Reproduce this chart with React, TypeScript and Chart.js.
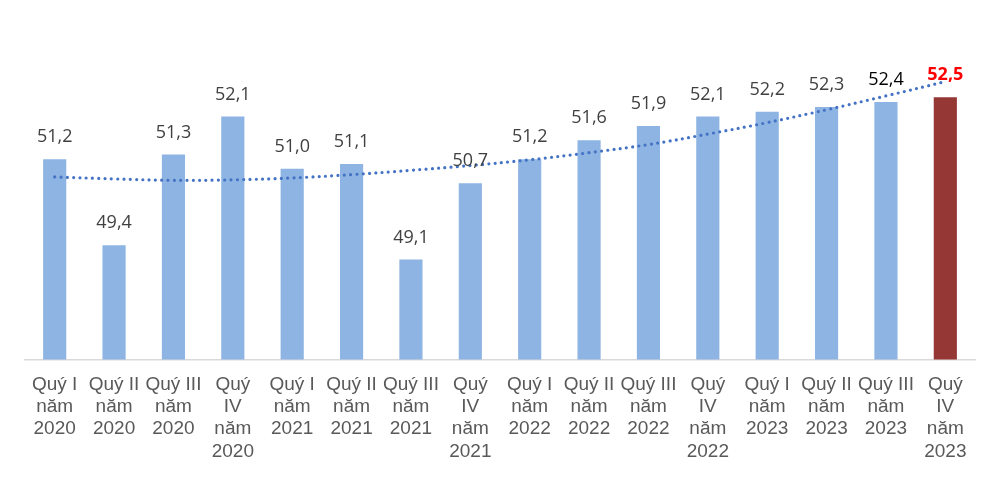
import { useEffect, useRef } from "react";
import { Chart, registerables } from "chart.js";

Chart.register(...registerables);

// quarters, wrapped the way the original labels wrap
const quarterLabels = [
  ["Quý I", "năm", "2020"],
  ["Quý II", "năm", "2020"],
  ["Quý III", "năm", "2020"],
  ["Quý", "IV", "năm", "2020"],
  ["Quý I", "năm", "2021"],
  ["Quý II", "năm", "2021"],
  ["Quý III", "năm", "2021"],
  ["Quý", "IV", "năm", "2021"],
  ["Quý I", "năm", "2022"],
  ["Quý II", "năm", "2022"],
  ["Quý III", "năm", "2022"],
  ["Quý", "IV", "năm", "2022"],
  ["Quý I", "năm", "2023"],
  ["Quý II", "năm", "2023"],
  ["Quý III", "năm", "2023"],
  ["Quý", "IV", "năm", "2023"],
];

const values = [
  51.2, 49.4, 51.3, 52.1, 51.0, 51.1, 49.1, 50.7, 51.2, 51.6, 51.9, 52.1, 52.2,
  52.3, 52.4, 52.5,
];

// polynomial trend line
const trendValues = [
  50.83, 50.79, 50.76, 50.77, 50.81, 50.88, 50.97, 51.07, 51.19, 51.34, 51.51,
  51.73, 51.97, 52.24, 52.53, 52.83,
];

const BLUE = "#8DB4E2";
const DARK_RED = "#953735";

const valueLabels = {
  id: "valueLabels",
  afterDatasetsDraw(chart: Chart) {
    const ctx = chart.ctx;
    const meta = chart.getDatasetMeta(1);
    const last = meta.data.length - 1;
    ctx.save();
    ctx.textAlign = "center";
    ctx.textBaseline = "middle";
    meta.data.forEach((bar: any, i: number) => {
      const text = values[i].toFixed(1).replace(".", ",");
      if (i === last) {
        ctx.fillStyle = "#FF0000";
        ctx.font = "bold 18px 'Open Sans'";
      } else {
        ctx.fillStyle = i === last - 1 ? "#000000" : "#404040";
        ctx.font = "18px 'Open Sans'";
      }
      ctx.fillText(text, bar.x, bar.y - 22);
    });
    ctx.restore();
  },
};

export default function App() {
  const canvasRef = useRef<HTMLCanvasElement>(null);

  useEffect(() => {
    document.body.style.margin = "0";
    const chart = new Chart(canvasRef.current!, {
      type: "bar",
      data: {
        labels: quarterLabels,
        datasets: [
          {
            type: "line",
            label: "Xu hướng",
            data: trendValues,
            borderColor: "#4472C4",
            borderWidth: 3.2,
            borderDash: [0, 6.3],
            borderCapStyle: "round",
            pointRadius: 0,
            tension: 0.4,
            order: 0,
          },
          {
            type: "bar",
            label: "Giá trị",
            data: values,
            backgroundColor: values.map((_, i) =>
              i === values.length - 1 ? DARK_RED : BLUE
            ),
            barPercentage: 0.39,
            categoryPercentage: 1,
            order: 1,
          },
        ] as any,
      },
      options: {
        animation: false,
        responsive: false,
        layout: { padding: { left: 25, right: 25, top: 73.5, bottom: 1.5 } },
        plugins: {
          legend: { display: false },
          tooltip: { enabled: false },
        },
        scales: {
          x: {
            grid: { display: false, drawTicks: false, tickLength: 0 },
            border: { display: true, color: "#D9D9D9", width: 1.5 },
            ticks: {
              color: "#595959",
              font: { family: "'Liberation Sans'", size: 19, lineHeight: 1.17 },
              padding: 14,
              maxRotation: 0,
              autoSkip: false,
            },
          },
          y: {
            display: false,
            min: 47,
            max: 53,
          },
        },
      },
      plugins: [valueLabels],
    });

    return () => chart.destroy();
  }, []);

  return (
    <div style={{ width: 1000, height: 478, background: "#fff" }}>
      <canvas ref={canvasRef} width={1000} height={478}></canvas>
    </div>
  );
}
